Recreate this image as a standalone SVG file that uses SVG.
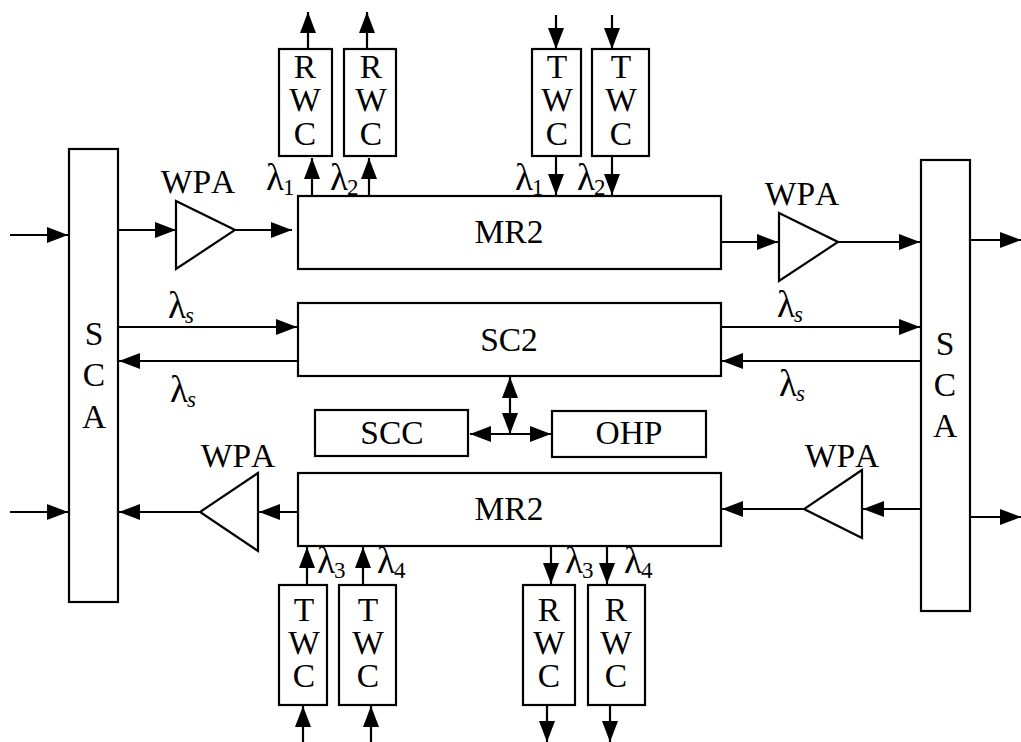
<svg xmlns="http://www.w3.org/2000/svg" width="1021" height="742" viewBox="0 0 1021 742">
<style>
text{font-family:"Liberation Serif","Times New Roman",serif;font-size:33.5px;fill:#000;text-anchor:middle;font-kerning:none}
.lam{text-anchor:start;font-size:37px}
.sub{font-size:23px}
.s{font-size:23px;font-style:italic}
.b{fill:#fff;stroke:#000;stroke-width:2.2}
.c{fill:none;stroke:#000;stroke-width:2.2;marker-end:url(#a)}
.d{fill:none;stroke:#000;stroke-width:2.2;marker-end:url(#a);marker-start:url(#r)}
</style>
<defs>
<marker id="a" markerUnits="userSpaceOnUse" markerWidth="22" markerHeight="16" refX="21" refY="8" orient="auto"><path d="M0 0L21 8L0 16Z" fill="#000"/></marker>
<marker id="r" markerUnits="userSpaceOnUse" markerWidth="22" markerHeight="16" refX="0" refY="8" orient="auto"><path d="M21 0L0 8L21 16Z" fill="#000"/></marker>
</defs>
<rect width="1021" height="742" fill="#fff"/>
<g id="connectors">
<path class="c" d="M308 49V12"/><path class="c" d="M367 49V12"/>
<path class="c" d="M312 196V158"/><path class="c" d="M369 196V158"/>
<path class="c" d="M556 15V49"/><path class="c" d="M612 15V49"/>
<path class="c" d="M556 156V195"/><path class="c" d="M612 156V195"/>
<path class="c" d="M10 235H68"/><path class="c" d="M118 230H176"/><path class="c" d="M235 230H292"/>
<path class="c" d="M721 242H778"/><path class="c" d="M838 242H920"/><path class="c" d="M970 240H1021"/>
<path class="c" d="M118 327H297"/><path class="c" d="M298 361H119"/>
<path class="c" d="M721 327H920"/><path class="c" d="M921 361H722"/>
<path class="c" d="M10 512H68"/><path class="c" d="M200 512H119"/><path class="c" d="M298 512H259"/>
<path class="c" d="M921 509H863"/><path class="c" d="M804 509H722"/><path class="c" d="M970 517H1021"/>
<path class="d" d="M510 377V434"/><path class="d" d="M470 434H551"/>
<path class="c" d="M307 585V547"/><path class="c" d="M363 585V547"/>
<path class="c" d="M303 742V706"/><path class="c" d="M371 742V706"/>
<path class="c" d="M551 546V584"/><path class="c" d="M607 546V584"/>
<path class="c" d="M547 705V742"/><path class="c" d="M610 705V742"/>
</g>
<g id="sca-left"><rect class="b" x="69" y="149" width="49" height="453"/><text><tspan x="94" y="345">S</tspan><tspan x="94" y="386">C</tspan><tspan x="94" y="428">A</tspan></text></g>
<g id="sca-right"><rect class="b" x="921" y="160" width="49" height="451"/><text><tspan x="945" y="355">S</tspan><tspan x="945" y="396">C</tspan><tspan x="945" y="437">A</tspan></text></g>
<g id="rwc-1"><rect class="b" x="279" y="49" width="53" height="107"/><text><tspan x="305" y="78">R</tspan><tspan x="305" y="111">W</tspan><tspan x="305" y="145">C</tspan></text></g>
<g id="rwc-2"><rect class="b" x="344" y="49" width="52" height="107"/><text><tspan x="371" y="78">R</tspan><tspan x="371" y="111">W</tspan><tspan x="371" y="145">C</tspan></text></g>
<g id="twc-1"><rect class="b" x="532" y="49" width="49" height="107"/><text><tspan x="557" y="78">T</tspan><tspan x="557" y="111">W</tspan><tspan x="557" y="145">C</tspan></text></g>
<g id="twc-2"><rect class="b" x="592" y="49" width="57" height="107"/><text><tspan x="621" y="78">T</tspan><tspan x="621" y="111">W</tspan><tspan x="621" y="145">C</tspan></text></g>
<g id="mr2-top"><rect class="b" x="298" y="196" width="423" height="73"/><text x="509" y="243">MR2</text></g>
<g id="sc2"><rect class="b" x="298" y="303" width="423" height="73"/><text x="509" y="351">SC2</text></g>
<g id="scc"><rect class="b" x="315" y="410" width="153" height="46"/><text x="392" y="444">SCC</text></g>
<g id="ohp"><rect class="b" x="552" y="411" width="154" height="46"/><text x="629" y="444">OHP</text></g>
<g id="mr2-bottom"><rect class="b" x="298" y="473" width="423" height="73"/><text x="509" y="520">MR2</text></g>
<g id="wpa-1"><path class="b" d="M176 201L235 230L176 269Z"/><text x="198" y="193">WPA</text></g>
<g id="wpa-2"><path class="b" d="M779 213L838 242L779 281Z"/><text x="802" y="205">WPA</text></g>
<g id="wpa-3"><path class="b" d="M258 473L200 512L258 551Z"/><text x="238" y="467">WPA</text></g>
<g id="wpa-4"><path class="b" d="M862 470L804 509L862 538Z"/><text x="842" y="467">WPA</text></g>
<g id="twc-3"><rect class="b" x="279" y="585" width="48" height="120"/><text><tspan x="304" y="621">T</tspan><tspan x="304" y="654">W</tspan><tspan x="304" y="687">C</tspan></text></g>
<g id="twc-4"><rect class="b" x="339" y="585" width="57" height="120"/><text><tspan x="368" y="621">T</tspan><tspan x="368" y="654">W</tspan><tspan x="368" y="687">C</tspan></text></g>
<g id="rwc-3"><rect class="b" x="523" y="585" width="52" height="120"/><text><tspan x="549" y="621">R</tspan><tspan x="549" y="654">W</tspan><tspan x="549" y="687">C</tspan></text></g>
<g id="rwc-4"><rect class="b" x="588" y="585" width="57" height="120"/><text><tspan x="616" y="621">R</tspan><tspan x="616" y="654">W</tspan><tspan x="616" y="687">C</tspan></text></g>
<g id="labels">
<text class="lam" x="266" y="190">λ<tspan class="sub" dy="5" dx="-1">1</tspan></text>
<text class="lam" x="330" y="190">λ<tspan class="sub" dy="5" dx="-1">2</tspan></text>
<text class="lam" x="515" y="190">λ<tspan class="sub" dy="5" dx="-1">1</tspan></text>
<text class="lam" x="577" y="190">λ<tspan class="sub" dy="5" dx="-1">2</tspan></text>
<text class="lam" x="317" y="573">λ<tspan class="sub" dy="5" dx="-1">3</tspan></text>
<text class="lam" x="377" y="573">λ<tspan class="sub" dy="5" dx="-1">4</tspan></text>
<text class="lam" x="565" y="573">λ<tspan class="sub" dy="5" dx="-1">3</tspan></text>
<text class="lam" x="624" y="573">λ<tspan class="sub" dy="5" dx="-1">4</tspan></text>
<text class="lam" x="168" y="318">λ<tspan class="s" dy="5" dx="-1">s</tspan></text>
<text class="lam" x="170" y="402">λ<tspan class="s" dy="5" dx="-1">s</tspan></text>
<text class="lam" x="777" y="317">λ<tspan class="s" dy="5" dx="-1">s</tspan></text>
<text class="lam" x="779" y="396">λ<tspan class="s" dy="5" dx="-1">s</tspan></text>
</g>
</svg>
